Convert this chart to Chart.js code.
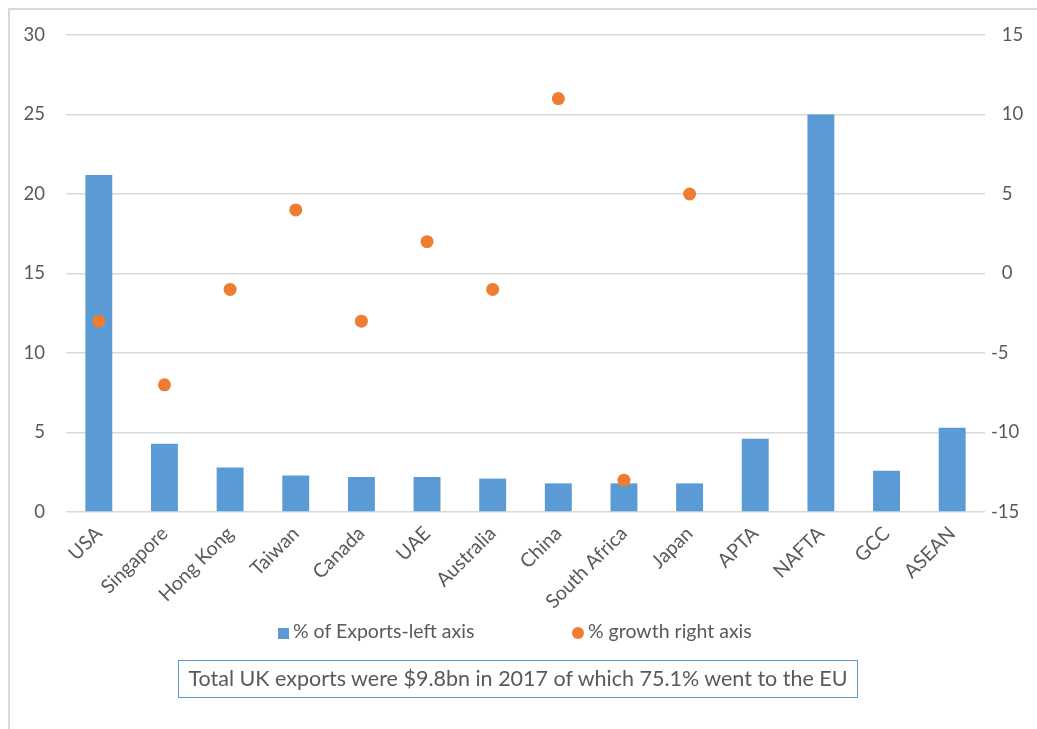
<!DOCTYPE html>
<html>
<head>
<meta charset="utf-8">
<script src="https://cdn.jsdelivr.net/npm/chart.js@4"></script>
<style>
  html, body { margin: 0; padding: 0; background: #fff; overflow: hidden; }
  body { width: 1037px; height: 729px; position: relative; font-family: Lato, "Open Sans", sans-serif; color: #595959; }
  #frame { position: absolute; left: 8px; top: 8px; width: 1060px; height: 760px; border: 2px solid #d9d9d9; box-sizing: border-box; }
  #chart { position: absolute; left: 0; top: 0; }
  .legend { position: absolute; top: 619px; height: 24px; line-height: 24px; font-size: 19.5px; white-space: nowrap; }
  .legend .sw { display: inline-block; width: 11px; height: 11px; margin-right: 4px; vertical-align: -1px; }
  .legend .dot { display: inline-block; width: 12px; height: 12px; border-radius: 50%; margin-right: 4px; vertical-align: -1px; }
  #note { position: absolute; left: 178px; top: 660px; width: 680px; height: 38px; box-sizing: border-box;
          border: 1.5px solid #5b9bd5; text-align: center; line-height: 35px; font-size: 21.5px; white-space: nowrap; }
</style>
</head>
<body>
<div id="frame"></div>
<canvas id="chart" width="1037" height="729"></canvas>
<div class="legend" style="left:278px"><span class="sw" style="background:#5b9bd5"></span>% of Exports-left axis</div>
<div class="legend" style="left:572px"><span class="dot" style="background:#ed7d31"></span>% growth right axis</div>
<div id="note">Total UK exports were $9.8bn in 2017 of which 75.1% went to the EU</div>
<script>
// export destinations and trade blocs
const markets = ["USA", "Singapore", "Hong Kong", "Taiwan", "Canada", "UAE", "Australia",
                 "China", "South Africa", "Japan", "APTA", "NAFTA", "GCC", "ASEAN"]
// share of total exports, % (left axis)
const exportShare = [21.2, 4.3, 2.8, 2.3, 2.2, 2.2, 2.1, 1.8, 1.8, 1.8, 4.6, 25, 2.6, 5.3]
// annual growth, % (right axis) — no figure for the blocs
const growth = [-3, -7, -1, 4, -3, 2, -1, 11, -13, 5, null, null, null, null]

const BLUE = "#5b9bd5"
const ORANGE = "#ed7d31"
const TEXT = "#595959"
const GRID = "#d9d9d9"
const tickFont = { family: "Lato, 'Open Sans', sans-serif", size: 18.5 }
const catFont = { family: "Lato, 'Open Sans', sans-serif", size: 19.5 }

new Chart(document.getElementById("chart"), {
  type: "bar",
  data: {
    labels: markets,
    datasets: [
      {
        type: "line",
        label: "% growth right axis",
        data: growth,
        yAxisID: "y1",
        showLine: false,
        pointRadius: 6.5,
        pointHoverRadius: 6.5,
        pointBackgroundColor: ORANGE,
        pointBorderWidth: 0,
        order: 0,
      },
      {
        label: "% of Exports-left axis",
        data: exportShare,
        yAxisID: "y",
        backgroundColor: BLUE,
        barPercentage: 0.41,
        categoryPercentage: 1,
        order: 1,
      },
    ],
  },
  options: {
    responsive: false,
    animation: false,
    layout: { padding: { top: 35, left: 0, right: 0, bottom: 0 } },
    plugins: { legend: { display: false }, tooltip: { enabled: false } },
    scales: {
      x: {
        grid: { display: false },
        border: { display: false },
        ticks: { color: TEXT, font: catFont, minRotation: 45, maxRotation: 45, padding: 2 },
        afterFit: (s) => { s.height = 217 },
      },
      y: {
        position: "left",
        min: 0, max: 30,
        ticks: { stepSize: 5, color: TEXT, font: tickFont, padding: 21 },
        grid: { color: GRID, lineWidth: 1.5, drawTicks: false },
        border: { display: false },
        afterFit: (s) => { s.width = 66 },
      },
      y1: {
        position: "right",
        min: -15, max: 15,
        ticks: {
          stepSize: 5, color: TEXT, font: tickFont, padding: 6,
          callback: (v) => (v >= 0 ? "\u2007" : "") + v,
        },
        grid: { display: false, drawTicks: false },
        border: { display: false },
        afterFit: (s) => { s.width = 52 },
      },
    },
  },
})
</script>
</body>
</html>
